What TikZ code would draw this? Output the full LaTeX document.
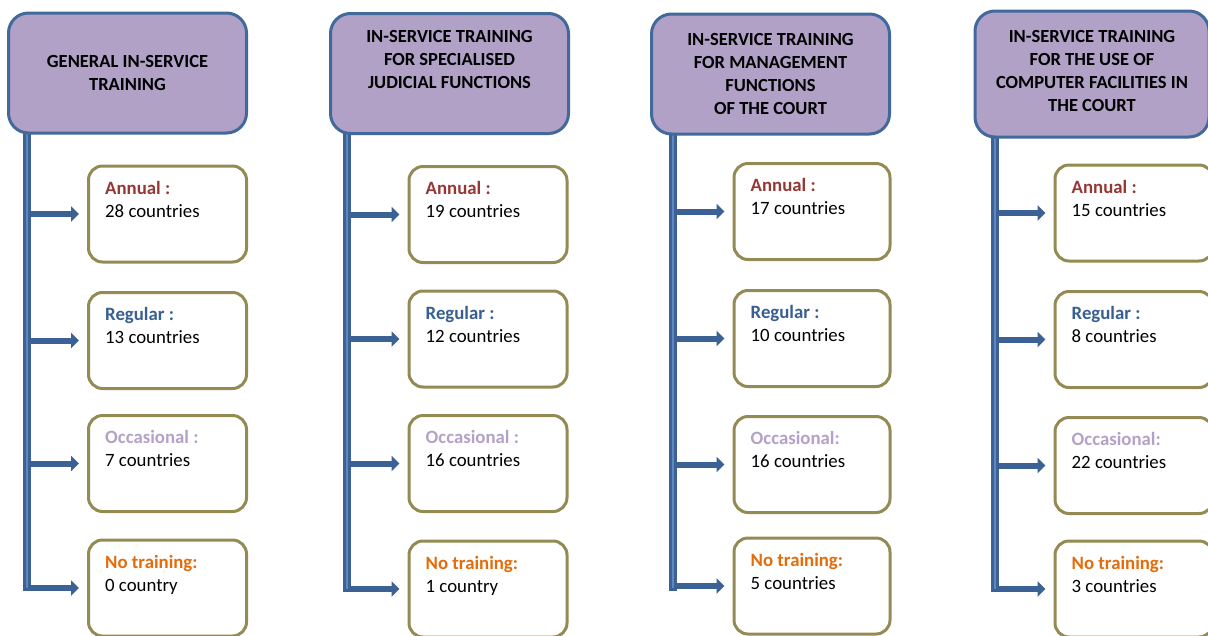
\documentclass[tikz,border=0pt]{standalone}
\usepackage{fontspec}
\setmainfont{Carlito}
\usetikzlibrary{arrows.meta,positioning}
\definecolor{lila}{HTML}{B2A1C7}
\definecolor{azulBorde}{HTML}{41699B}
\definecolor{azulBarra}{HTML}{3C6194}
\definecolor{azulClaro}{HTML}{5E88BF}
\definecolor{oliva}{HTML}{948A54}
\definecolor{rojoAnual}{HTML}{953735}
\definecolor{azulReg}{HTML}{376092}
\definecolor{lilaOcc}{HTML}{B3A2C7}
\definecolor{naranja}{HTML}{E46C0A}
\newcommand{\anual}{\textcolor{rojoAnual}{\textbf{Annual :}}}
\newcommand{\regular}{\textcolor{azulReg}{\textbf{Regular :}}}
\newcommand{\nada}{\textcolor{naranja}{\textbf{No training:}}}

\begin{document}
\begin{tikzpicture}[x=1pt,y=-1pt,
    head/.style={draw=azulBorde,line width=3pt,fill=lila,rounded corners=20pt,
      minimum width=238pt,minimum height=120pt,align=center,inner sep=0pt,
      font=\fontsize{18.5}{23}\selectfont\bfseries},
    caja/.style={draw=oliva,line width=3pt,rounded corners=14pt,fill=white,
      minimum width=158pt,minimum height=96pt,inner sep=0pt},
    txt/.style={align=left,inner sep=0pt,font=\fontsize{18.8}{23}\selectfont},
    flecha/.style={azulBarra,line width=6pt,shorten >=8pt,
      -{Triangle[length=8pt,width=15pt]}},
    barra/.style={azulBarra,line width=8pt},
    raya/.style={azulClaro,line width=2.5pt}]
  \useasboundingbox (0,0) rectangle (1208,635);
  \clip (0,0) rectangle (1208,635);

  \node[caja] (a11) at (167.5,214) {};
  \node[caja] (a12) at (167.5,340.5) {};
  \node[caja] (a13) at (167.5,463.5) {};
  \node[caja] (a14) at (167.5,588) {};
  \node[caja] (a21) at (488,214.5) {};
  \node[caja] (a22) at (488,339) {};
  \node[caja] (a23) at (488,463.5) {};
  \node[caja] (a24) at (488,589) {};
  \node[caja,minimum width=156pt] (a31) at (812,211.5) {};
  \node[caja,minimum width=156pt] (a32) at (812,338.5) {};
  \node[caja,minimum width=156pt] (a33) at (812,464.5) {};
  \node[caja,minimum width=156pt] (a34) at (812,586) {};
  \node[caja] (a41) at (1134,213) {};
  \node[caja] (a42) at (1134,339.5) {};
  \node[caja] (a43) at (1134,465.5) {};
  \node[caja] (a44) at (1134,589) {};

  \node[txt,below right=16.5pt and 18pt of a11.north west] (t11) {\anual\\28 countries};
  \node[txt,below right=16.5pt and 18pt of a12.north west] (t12) {\regular\\13 countries};
  \node[txt,below right=16.5pt and 18pt of a13.north west] (t13)
    {\textcolor{lilaOcc}{\textbf{Occasional :}}\\7 countries};
  \node[txt,below right=16.5pt and 18pt of a14.north west] (t14) {\nada\\0 country};
  \node[txt,below right=16.5pt and 18pt of a21.north west] (t21) {\anual\\19 countries};
  \node[txt,below right=16.5pt and 18pt of a22.north west] (t22) {\regular\\12 countries};
  \node[txt,below right=16.5pt and 18pt of a23.north west] (t23)
    {\textcolor{lilaOcc}{\textbf{Occasional :}}\\16 countries};
  \node[txt,below right=16.5pt and 18pt of a24.north west] (t24) {\nada\\1 country};
  \node[txt,below right=16.5pt and 18pt of a31.north west] (t31) {\anual\\17 countries};
  \node[txt,below right=16.5pt and 18pt of a32.north west] (t32) {\regular\\10 countries};
  \node[txt,below right=16.5pt and 18pt of a33.north west] (t33)
    {\textcolor{lilaOcc}{\textbf{Occasional:}}\\16 countries};
  \node[txt,below right=16.5pt and 18pt of a34.north west] (t34) {\nada\\5 countries};
  \node[txt,below right=16.5pt and 18pt of a41.north west] (t41) {\anual\\15 countries};
  \node[txt,below right=16.5pt and 18pt of a42.north west] (t42) {\regular\\8 countries};
  \node[txt,below right=16.5pt and 18pt of a43.north west] (t43)
    {\textcolor{lilaOcc}{\textbf{Occasional:}}\\22 countries};
  \node[txt,below right=16.5pt and 18pt of a44.north west] (t44) {\nada\\3 countries};

  \coordinate (b1) at (27,588);
  \coordinate (b2) at (347,589);
  \coordinate (b3) at (673,588);
  \coordinate (b4) at (995,589);

  \draw[flecha] (b1 |- a11.west) -- (a11.west);
  \draw[flecha] (b1 |- a12.west) -- (a12.west);
  \draw[flecha] (b1 |- a13.west) -- (a13.west);
  \draw[flecha] (b1 |- a14.west) -- (a14.west);
  \draw[flecha] (b2 |- a21.west) -- (a21.west);
  \draw[flecha] (b2 |- a22.west) -- (a22.west);
  \draw[flecha] (b2 |- a23.west) -- (a23.west);
  \draw[flecha] (b2 |- a24.west) -- (a24.west);
  \draw[flecha] (b3 |- a31.west) -- (a31.west);
  \draw[flecha] (b3 |- a32.west) -- (a32.west);
  \draw[flecha] (b3 |- a33.west) -- (a33.west);
  \draw[flecha] (b3 |- a34.west) -- (a34.west);
  \draw[flecha] (b4 |- a41.west) -- (a41.west);
  \draw[flecha] (b4 |- a42.west) -- (a42.west);
  \draw[flecha] (b4 |- a43.west) -- (a43.west);
  \draw[flecha] (b4 |- a44.west) -- (a44.west);

  \draw[barra] (27,120) -- ([yshift=-3pt]b1);
  \draw[raya] (27,120) -- (b1);
  \draw[barra] (347,120) -- ([yshift=-3pt]b2);
  \draw[raya] (347,120) -- (b2);
  \draw[barra] (673,120) -- ([yshift=-3pt]b3);
  \draw[raya] (673,120) -- (b3);
  \draw[barra] (995,120) -- ([yshift=-3pt]b4);
  \draw[raya] (995,120) -- (b4);

  \node[head] (h1) at (127.5,73) {GENERAL IN-SERVICE\\TRAINING};
  \node[head] (h2) at (449.5,73.5)
    {IN-SERVICE TRAINING\\FOR SPECIALISED\\JUDICIAL FUNCTIONS\\[6pt]~};
  \node[head] (h3) at (770.5,74)
    {IN-SERVICE TRAINING\\FOR MANAGEMENT\\FUNCTIONS\\OF THE COURT};
  \node[head,minimum width=234pt,minimum height=126pt] (h4) at (1092,74)
    {IN-SERVICE TRAINING\\FOR THE USE OF\\COMPUTER FACILITIES IN\\THE COURT\\[-16pt]~};
\end{tikzpicture}
\end{document}
